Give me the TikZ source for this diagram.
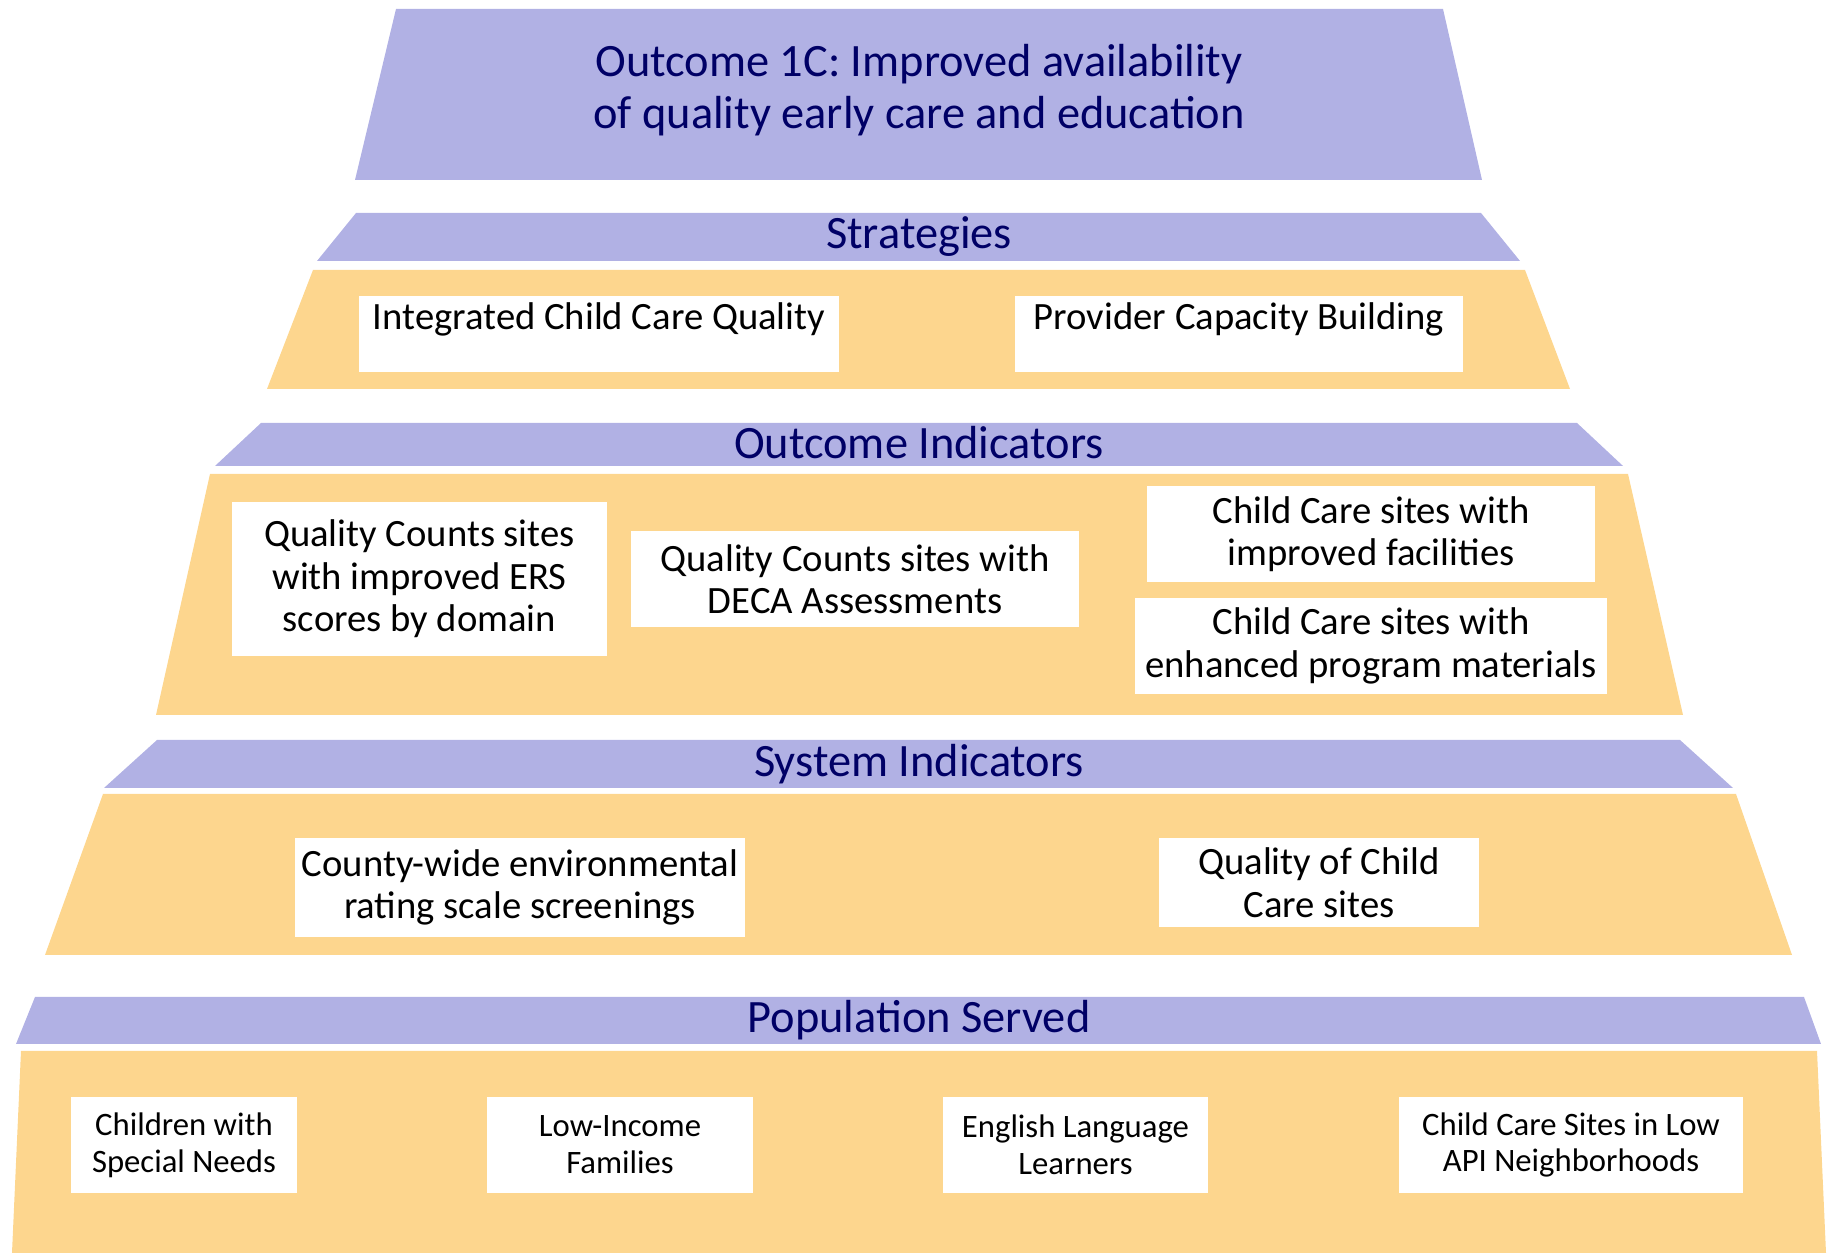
\documentclass[tikz,border=0pt]{standalone}
\usepackage{fontspec}
\setmainfont{Carlito}
\usepackage{tikz}
\usetikzlibrary{positioning}
\definecolor{colorband} {RGB}{177,177,228}
\definecolor{colorlayer}{RGB}{253,214,142}
\definecolor{colorhead} {RGB}{0  ,0  ,102}

\begin{document}
\begin{tikzpicture}[
    head/.style={text=colorhead,font={\fontsize{13.2}{14.6}\selectfont},align=center},
    entry/.style={fill=white,inner sep=0pt,align=center,font={\fontsize{11}{12.1}\selectfont}},
    small/.style={entry,font={\fontsize{9.3}{10.5}\selectfont},minimum height=0.96cm},
]
    \useasboundingbox (0,0) rectangle (18.33,12.53);

    % outcome
    \fill[colorband] (3.96,12.44) -- (14.43,12.44) -- (14.82,10.73) -- (3.55,10.73) -- cycle;
    \node[head] (outcome) at (9.19,11.63) {Outcome 1C: Improved availability\\
    of quality early care and education};

    % strategies
    \fill[colorband] (3.56,10.40) -- (14.81,10.40) -- (15.20,9.92) -- (3.17,9.92) -- cycle;
    \fill[colorlayer] (3.13,9.83) -- (15.25,9.83) -- (15.70,8.64) -- (2.67,8.64) -- cycle;
    \node[head] (strat) at (9.19,10.16) {Strategies};
    \node[entry,minimum width=4.80cm,text height=0.34cm,text depth=0.42cm] (stratA) at (5.99,9.19) {Integrated Child Care Quality};
    \node[entry,minimum width=4.48cm,text height=0.34cm,text depth=0.42cm] (stratB) at (12.39,9.19) {Provider Capacity Building};

    % outcome indicators
    \fill[colorband] (2.61,8.30) -- (15.77,8.30) -- (16.23,7.87) -- (2.15,7.87) -- cycle;
    \fill[colorlayer] (2.10,7.79) -- (16.28,7.79) -- (16.83,5.38) -- (1.56,5.38) -- cycle;
    \node[head] (outind) at (9.19,8.10) {Outcome Indicators};
    \node[entry,minimum width=3.75cm,minimum height=1.54cm] (ers) at (4.195,6.74) {Quality Counts sites\\
    with improved ERS\\
    scores by domain};
    \node[entry,minimum width=4.48cm,minimum height=0.96cm] (deca) at (8.55,6.74) {Quality Counts sites with\\
    DECA Assessments};
    \node[entry,minimum width=4.48cm,minimum height=0.96cm] (facil) at (13.71,7.19) {Child Care sites with\\
    improved facilities};
    \node[entry,minimum width=4.72cm,minimum height=0.96cm] (mater) at (13.71,6.07) {Child Care sites with\\
    enhanced program materials};

    % system indicators
    \fill[colorband] (1.57,5.13) -- (16.80,5.13) -- (17.33,4.65) -- (1.04,4.65) -- cycle;
    \fill[colorlayer] (1.03,4.59) -- (17.36,4.59) -- (17.92,2.98) -- (0.45,2.98) -- cycle;
    \node[head] (sysind) at (9.19,4.89) {System Indicators};
    \node[entry,minimum width=4.50cm,minimum height=0.99cm] (ersscr) at (5.20,3.655) {County-wide environmental\\
    rating scale screenings};
    \node[entry,minimum width=3.20cm,minimum height=0.89cm] (sites) at (13.19,3.705) {Quality of Child\\
    Care sites};

    % population served
    \fill[colorband] (0.35,2.56) -- (18.04,2.56) -- (18.21,2.09) -- (0.16,2.09) -- cycle;
    \fill[colorlayer] (0.21,2.02) -- (18.17,2.02) -- (18.26,0) -- (0.12,0) -- cycle;
    \node[head] (popul) at (9.19,2.325) {Population Served};
    \node[small,minimum width=2.26cm] (special) at (1.84,1.08) {Children with\\
    Special Needs};
    \node[small,minimum width=2.66cm] (income) at (6.20,1.08) {Low-Income\\
    Families};
    \node[small,minimum width=2.65cm] (english) at (10.755,1.08) {English Language\\
    Learners};
    \node[small,minimum width=3.44cm] (lowapi) at (15.71,1.08) {Child Care Sites in Low\\
    API Neighborhoods};

\end{tikzpicture}
\end{document}
